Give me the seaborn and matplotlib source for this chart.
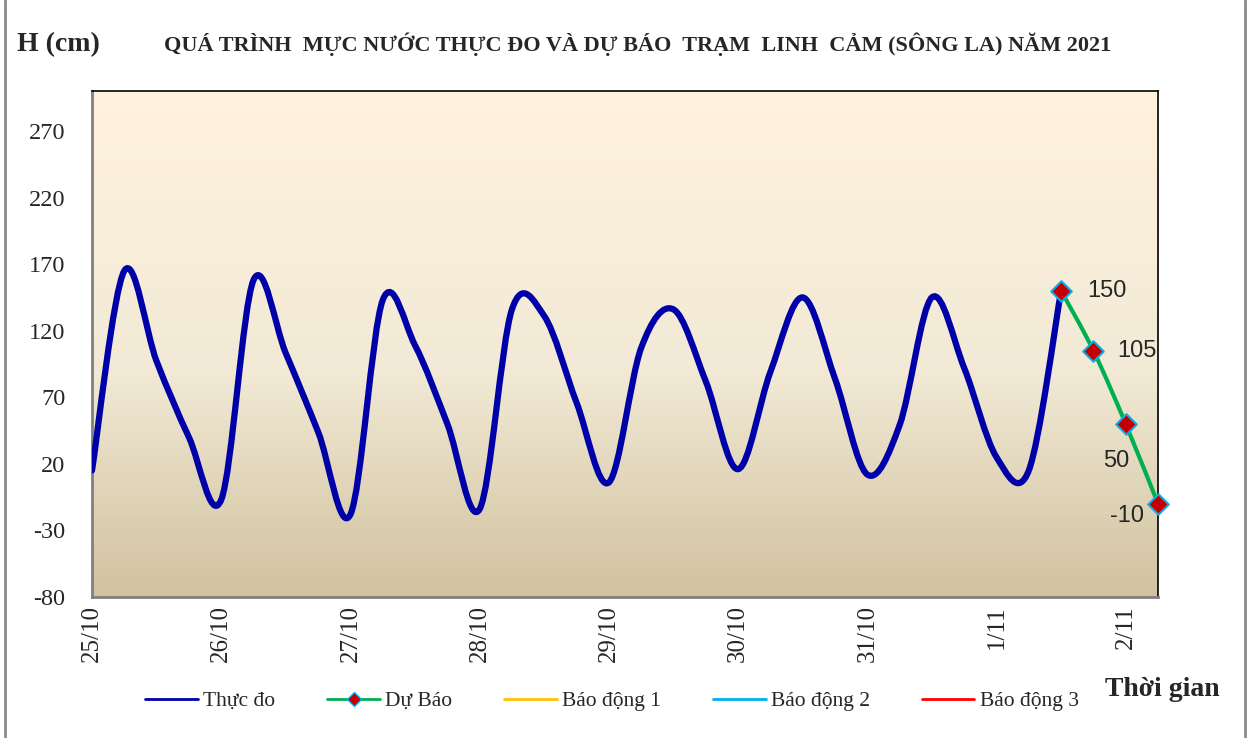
import numpy as np
import matplotlib
matplotlib.use("Agg")
import matplotlib.pyplot as plt
from matplotlib.path import Path
from matplotlib.patches import PathPatch
from matplotlib.lines import Line2D
from matplotlib.colors import LinearSegmentedColormap
import seaborn as sns
import pandas as pd

# data: one value every 6 hours, day labels every 4 steps
day_labels = ["25/10", "26/10", "27/10", "28/10", "29/10", "30/10", "31/10", "1/11", "2/11"]
steps_per_day = 4
n_steps = 34

thuc_do = [15, 165, 97, 40, -7, 158, 103, 44, -18, 143, 109, 50, -14, 136, 131, 66,
           6, 107, 136, 82, 16, 89, 145, 84, 12, 49, 145, 92, 25, 15, 150]
du_bao = [150, 105, 50, -10]
du_bao_start = 30
du_bao_text = ["150", "105", "50", "-10"]

legend_labels = ["Thực đo", "Dự Báo", "Báo động 1", "Báo động 2", "Báo động 3"]
legend_colors = ["#0000A8", "#00B050", "#FFC000", "#00B0F0", "#FF0000"]
yticks = [-80, -30, 20, 70, 120, 170, 220, 270]

obs = pd.DataFrame({"t": np.arange(len(thuc_do)), "h": thuc_do})
fc = pd.DataFrame({"t": np.arange(du_bao_start, du_bao_start + len(du_bao)), "h": du_bao})

sns.set_style("white")
plt.rcParams["font.family"] = ["Liberation Serif", "DejaVu Serif"]


def smooth_path(xs, ys):
    # excel style smoothed line (catmull-rom bezier)
    pts = np.column_stack([xs, ys]).astype(float)
    n = len(pts)
    verts = [pts[0]]
    codes = [Path.MOVETO]
    for i in range(n - 1):
        p0 = pts[i - 1] if i > 0 else pts[i]
        p1 = pts[i]
        p2 = pts[i + 1]
        p3 = pts[i + 2] if i + 2 < n else pts[i + 1]
        verts += [p1 + (p2 - p0) / 6, p2 - (p3 - p1) / 6, p2]
        codes += [Path.CURVE4] * 3
    return Path(verts, codes)


fig = plt.figure(figsize=(12.53, 7.38), dpi=100)
ax = fig.add_axes([92 / 1253, 1 - 597 / 738, (1158 - 92) / 1253, (597 - 91) / 738])

# background gradient
cmap = LinearSegmentedColormap.from_list("bg", [(0, "#FFF2DF"), (0.55, "#F2EAD6"), (1, "#D1C29F")])
ax.imshow(np.linspace(0, 1, 256).reshape(-1, 1), cmap=cmap, aspect="auto",
          extent=[0, 1, 0, 1], transform=ax.transAxes, zorder=0)

ax.add_patch(PathPatch(smooth_path(obs["t"], obs["h"]), facecolor="none",
                       edgecolor="#0000A8", lw=4.5, capstyle="round", joinstyle="round", zorder=3))
ax.add_patch(PathPatch(smooth_path(fc["t"], fc["h"]), facecolor="none",
                       edgecolor="#00B050", lw=3, capstyle="round", zorder=4))
sns.scatterplot(data=fc, x="t", y="h", marker="D", s=110, color="#C00000",
                edgecolor="#00B0F0", linewidth=1.5, zorder=5, ax=ax, legend=False, clip_on=False)

offsets = [(19, 0), (17, 0), (-7, -27), (-22, -9)]
for (t, h), txt, off in zip(fc[["t", "h"]].values, du_bao_text, offsets):
    ax.annotate(txt, (t, h), xytext=off, textcoords="offset points",
                ha="left" if off[0] > 0 else "center", va="center",
                fontsize=17, family="Liberation Sans", zorder=6)

ax.set_xlim(0, n_steps - 1)
ax.set_ylim(-80, 300)
ax.set_xticks(np.arange(0, n_steps, steps_per_day))
ax.set_xticklabels(day_labels, rotation=90, fontsize=18)
ax.set_xticks(np.arange(n_steps), minor=True)
ax.set_yticks(yticks)
ax.set_yticklabels([str(v) for v in yticks], fontsize=17.5)
ax.set_xlabel("")
ax.set_ylabel("")
ax.tick_params(axis="x", which="both", direction="in", length=6, width=1.2, color="#808080", pad=6)
ax.tick_params(axis="y", direction="out", length=6, width=1.2, color="#808080", pad=13)
for s in ["left", "bottom"]:
    ax.spines[s].set_color("#808080")
    ax.spines[s].set_linewidth(2)
for s in ["top", "right"]:
    ax.spines[s].set_color("black")
    ax.spines[s].set_linewidth(1.2)

fig.text(17 / 1253, 1 - 45 / 738, "H (cm)", fontsize=20, fontweight="bold", va="center", ha="left")
fig.text(638 / 1253, 1 - 44 / 738,
         "QUÁ TRÌNH  MỰC NƯỚC THỰC ĐO VÀ DỰ BÁO  TRẠM  LINH  CẢM (SÔNG LA) NĂM 2021",
         fontsize=16, fontweight="bold", va="center", ha="center")
fig.text(1105 / 1253, 1 - 690 / 738, "Thời gian", fontsize=20, fontweight="bold", va="center", ha="left")

handles = [Line2D([], [], color=legend_colors[0], lw=2),
           Line2D([], [], color=legend_colors[1], lw=2, marker="D", markersize=7,
                  markerfacecolor="#C00000", markeredgecolor="#00B0F0"),
           Line2D([], [], color=legend_colors[2], lw=2),
           Line2D([], [], color=legend_colors[3], lw=2),
           Line2D([], [], color=legend_colors[4], lw=2)]
fig.legend(handles, legend_labels, loc="center", bbox_to_anchor=(612 / 1253, 1 - 701 / 738),
           ncol=5, frameon=False, fontsize=15.5, handlelength=2.45, handletextpad=0.25,
           columnspacing=2.4)

# outer frame
fig.add_artist(Line2D([5 / 1253, 5 / 1253], [0, 1], color="#8C8C8C", lw=2, transform=fig.transFigure))
fig.add_artist(Line2D([1245 / 1253, 1245 / 1253], [0, 1], color="#8C8C8C", lw=2, transform=fig.transFigure))

fig.savefig("out.png", dpi=100)
